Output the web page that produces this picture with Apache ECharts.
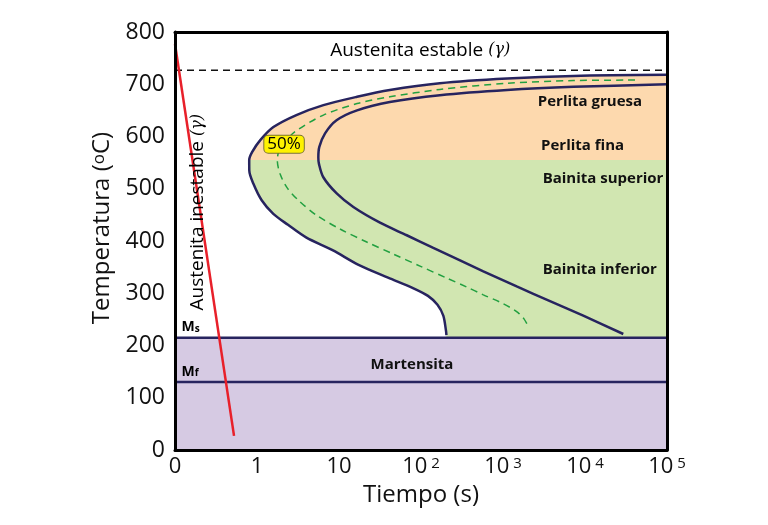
<!DOCTYPE html>
<html><head><meta charset="utf-8">
<script src="https://cdn.jsdelivr.net/npm/echarts@6/dist/echarts.min.js"></script>
<style>html,body{margin:0;padding:0;background:#fff}#c{width:768px;height:525px}</style>
</head><body><div id="c"></div>
<script>
// x is measured in "decades": 0 -> "0", 1 -> 1 s, 2 -> 10 s, 3 -> 10^2 s ... 6 -> 10^5 s
const xTickLabels = ['0', '1', '10', '10^2', '10^3', '10^4', '10^5'];
const yTickLabels = ['0', '100', '200', '300', '400', '500', '600', '700', '800'];

// transformation start curve (outer C)
const startCurve = [[6.0,718],[4.86,716],[4.05,711],[3.23,702],[2.62,689],[2.22,676],[1.81,660],[1.48,641],[1.2,618],[1.04,593],[0.94,570],[0.905,555],[0.906,535],[0.955,510],[1.057,478],[1.199,452],[1.378,431],[1.598,407],[1.927,382],[2.232,355],[2.598,330],[2.902,310],[3.085,295],[3.201,278],[3.272,257],[3.305,228],[3.31,220]];
// transformation end curve (inner C)
const endCurve = [[6.0,700],[4.86,695],[4.05,689],[3.23,679],[2.62,666],[2.22,650],[1.97,631],[1.83,606],[1.76,580],[1.748,560],[1.755,548],[1.809,522],[1.972,491],[2.175,465],[2.5,435],[2.826,411],[3.15,387],[3.476,363],[3.76,342],[4.167,313],[4.573,285],[4.979,257],[5.467,222]];
// 50 % transformation curve
const halfCurve = [[5.61,708],[4.86,707],[4.05,702],[3.23,690],[2.62,676],[2.22,663],[1.81,641],[1.46,609],[1.34,589],[1.27,574],[1.248,554],[1.28,529],[1.362,503],[1.504,478],[1.728,449],[2.012,423],[2.338,398],[2.662,375],[2.988,352],[3.313,329],[3.557,312],[3.76,297],[3.963,283],[4.085,273],[4.183,263],[4.256,251],[4.293,241]];
// quench (cooling) line
const coolingLine = [[0,777],[0.72,27]];

const A1 = 727;          // stable austenite limit
const Ms = 215;          // martensite start
const Mf = 130;          // martensite finish
const pearliteBainiteT = 555;
const xMax = 6;

// ---- derived regions ----
const noseIdx = startCurve.findIndex(p => p[1] === pearliteBainiteT);
const pearliteRegion = startCurve.slice(0, noseIdx + 1).concat([[xMax, pearliteBainiteT]]);
const lastStart = startCurve[startCurve.length - 1];
const bainiteRegion = startCurve.slice(noseIdx).concat([[lastStart[0], Ms], [xMax, Ms], [xMax, pearliteBainiteT]]);
const martensiteRegion = [[0, 0], [0, Ms], [xMax, Ms], [xMax, 0]];

const FONT = 'Open Sans';
const NAVY = '#27245f';

function polygonSeries(pts, color, z) {
  return {
    type: 'custom', coordinateSystem: 'cartesian2d', silent: true, z: z,
    data: [[0, 0]], encode: {x: 0, y: 1}, clip: true,
    renderItem: (params, api) => ({
      type: 'polygon',
      shape: {points: pts.map(p => api.coord(p))},
      style: {fill: color}
    })
  };
}
function lineSeries(data, color, width, type, z, smooth) {
  return {
    type: 'line', data: data, showSymbol: false, symbol: 'none', silent: true, z: z,
    smooth: smooth || false,
    lineStyle: {color: color, width: width, type: type || 'solid'}
  };
}

const gammaRich = {
  a: {fontFamily: FONT, fontSize: 19, color: '#111'},
  g: {fontFamily: 'DejaVu Serif', fontStyle: 'italic', fontSize: 16, color: '#444'}
};
const boldLabel = {fontFamily: FONT, fontWeight: 'bold', fontSize: 15, fill: '#111', align: 'center', verticalAlign: 'middle'};
const subRich = {
  m: {fontFamily: FONT, fontWeight: 'bold', fontSize: 14, color: '#111', verticalAlign: 'bottom'},
  s: {fontFamily: FONT, fontWeight: 'bold', fontSize: 10, color: '#111', verticalAlign: 'bottom'}
};

const annotations = [
  {pos: [2.99, 765], style: {text: '{a|Austenita estable }{g|(γ)}', rich: gammaRich, align: 'center', verticalAlign: 'middle'}},
  {pos: [0.28, 455], rotation: Math.PI / 2, style: {text: '{a|Austenita inestable }{g|(γ)}', rich: gammaRich, align: 'center', verticalAlign: 'middle'}},
  {pos: [5.06, 666], style: Object.assign({text: 'Perlita gruesa'}, boldLabel)},
  {pos: [4.97, 583], style: Object.assign({text: 'Perlita fina'}, boldLabel)},
  {pos: [5.22, 519], style: Object.assign({text: 'Bainita superior'}, boldLabel)},
  {pos: [5.18, 345], style: Object.assign({text: 'Bainita inferior'}, boldLabel)},
  {pos: [2.89, 164], style: Object.assign({text: 'Martensita'}, boldLabel)},
  {pos: [0.08, 235], style: {text: '{m|M}{s|s}', align: 'left', verticalAlign: 'middle', rich: subRich}},
  {pos: [0.08, 150], style: {text: '{m|M}{s|f}', align: 'left', verticalAlign: 'middle', rich: subRich}},
  {pos: [1.33, 585], style: {text: '50%', fontFamily: FONT, fontSize: 17, fill: '#000', align: 'center', verticalAlign: 'middle',
     backgroundColor: '#fff200', borderColor: '#7a7430', borderWidth: 1, borderRadius: 4, padding: [0, 3, 0, 3]}}
];

const annotationSeries = {
  type: 'custom', coordinateSystem: 'cartesian2d', silent: true, z: 20, clip: false,
  data: [[0, 0]], encode: {x: 0, y: 1},
  renderItem: (params, api) => ({
    type: 'group',
    children: annotations.map(a => {
      const c = api.coord(a.pos);
      return {type: 'text', x: c[0], y: c[1], rotation: a.rotation || 0, style: a.style};
    })
  })
};

const xRich = {
  b: {fontFamily: FONT, fontSize: 22, color: '#111'},
  sup: {fontFamily: FONT, fontSize: 15, color: '#111', verticalAlign: 'top', padding: [0, 0, 0, 4]}
};

const chart = echarts.init(document.getElementById('c'), null, {renderer: 'canvas'});
chart.setOption({
  animation: false,
  backgroundColor: '#fff',
  grid: {left: 175, right: 101, top: 32, bottom: 75, containLabel: false},
  xAxis: [{
    type: 'value', min: 0, max: xMax, interval: 1, position: 'bottom', z: 10,
    name: 'Tiempo (s)', nameLocation: 'middle', nameGap: 32,
    nameTextStyle: {fontFamily: FONT, fontSize: 24, color: '#111'},
    axisLine: {show: true, onZero: false, lineStyle: {color: '#000', width: 3}},
    axisTick: {show: false}, splitLine: {show: false},
    axisLabel: {margin: 6, color: '#111', rich: xRich,
      formatter: v => {
        const s = xTickLabels[Math.round(v)];
        if (s.indexOf('^') >= 0) { const p = s.split('^'); return '{b|' + p[0] + '}{sup|' + p[1] + '}'; }
        return '{b|' + s + '}';
      }}
  }, {
    type: 'value', min: 0, max: xMax, position: 'top', z: 10,
    axisLine: {show: true, onZero: false, lineStyle: {color: '#000', width: 3}},
    axisTick: {show: false}, axisLabel: {show: false}, splitLine: {show: false}
  }],
  yAxis: [{
    type: 'value', min: 0, max: 800, interval: 100, position: 'left', z: 10,
    name: 'Temperatura ({o|o}C)', nameLocation: 'middle', nameGap: 57, nameRotate: 90,
    nameTextStyle: {fontFamily: FONT, fontSize: 24, color: '#111', padding: [0, 0, 0, 26],
      rich: {o: {fontFamily: FONT, fontSize: 17, color: '#111', verticalAlign: 'top'}}},
    axisLine: {show: true, onZero: false, lineStyle: {color: '#000', width: 3}},
    axisTick: {show: false}, splitLine: {show: false},
    axisLabel: {margin: 10, fontFamily: FONT, fontSize: 23, color: '#111',
      formatter: v => yTickLabels[Math.round(v / 100)]}
  }, {
    type: 'value', min: 0, max: 800, position: 'right', z: 10,
    axisLine: {show: true, onZero: false, lineStyle: {color: '#000', width: 3}},
    axisTick: {show: false}, axisLabel: {show: false}, splitLine: {show: false}
  }],
  series: [
    polygonSeries(martensiteRegion, '#d6cae3', 1),
    polygonSeries(pearliteRegion, '#fdd9ae', 1),
    polygonSeries(bainiteRegion, '#d1e6b1', 1),
    lineSeries([[0, A1], [xMax, A1]], '#111', 1.5, [7, 5], 3),
    lineSeries([[0, Ms], [xMax, Ms]], NAVY, 2.5, 'solid', 3),
    lineSeries([[0, Mf], [xMax, Mf]], NAVY, 2.5, 'solid', 3),
    lineSeries(halfCurve, '#22a040', 1.5, [7, 5], 3, 0.3),
    lineSeries(startCurve, NAVY, 2.5, 'solid', 4, 0.3),
    lineSeries(endCurve, NAVY, 2.5, 'solid', 4, 0.3),
    lineSeries(coolingLine, '#e8202a', 2.5, 'solid', 5),
    annotationSeries
  ]
});
</script></body></html>
